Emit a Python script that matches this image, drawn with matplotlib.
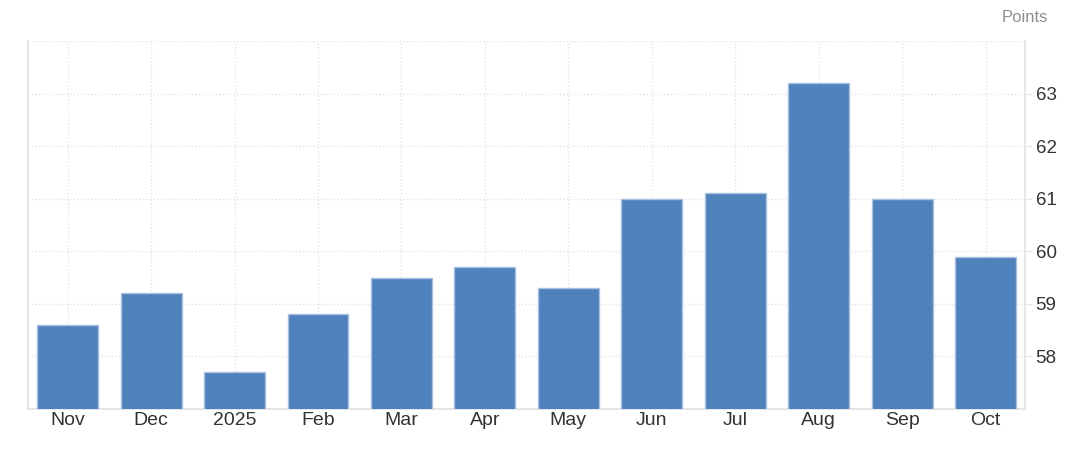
import matplotlib.pyplot as plt

# chart data
months = ["Nov", "Dec", "2025", "Feb", "Mar", "Apr",
          "May", "Jun", "Jul", "Aug", "Sep", "Oct"]
points = [58.6, 59.2, 57.7, 58.8, 59.5, 59.7,
          59.3, 61.0, 61.1, 63.2, 61.0, 59.9]
y_ticks = [58, 59, 60, 61, 62, 63]

plt.rcParams['font.family'] = ['Liberation Sans', 'DejaVu Sans']

fig = plt.figure(figsize=(10.67, 4.55), dpi=100)
ax = fig.add_axes([0.0262, 0.101, 0.934, 0.809])

ax.bar(range(len(months)), points, width=0.73, bottom=0,
       color="#4f81bd", edgecolor="#a9c1e0", linewidth=1, zorder=3)

ax.set_xlim(-0.476, len(months) - 0.533)
ax.set_ylim(57, 64)
ax.set_xticks(range(len(months)))
ax.set_xticklabels(months)
ax.set_yticks(y_ticks)

ax.yaxis.tick_right()
ax.tick_params(axis="y", length=5, color="#e6e6e6", labelsize=13.5,
               labelcolor="#333333", pad=3)
ax.tick_params(axis="x", length=0, labelsize=14, labelcolor="#333333", pad=2)

# grid
ax.grid(True, color="#e3e3e3", linestyle=(0, (1, 1.5)), linewidth=1, zorder=0)
ax.axhline(64, color="#e3e3e3", linestyle=(0, (1, 1.5)), linewidth=1, zorder=0)

for side in ["left", "bottom", "right"]:
    ax.spines[side].set_color("#e0e0e0")
    ax.spines[side].set_linewidth(1.2)
ax.spines["top"].set_visible(False)

fig.text(0.982, 0.962, "Points", ha="right", va="center",
         fontsize=12, color="#8f8f8f")

fig.savefig("out.png", dpi=100)
plt.close()
